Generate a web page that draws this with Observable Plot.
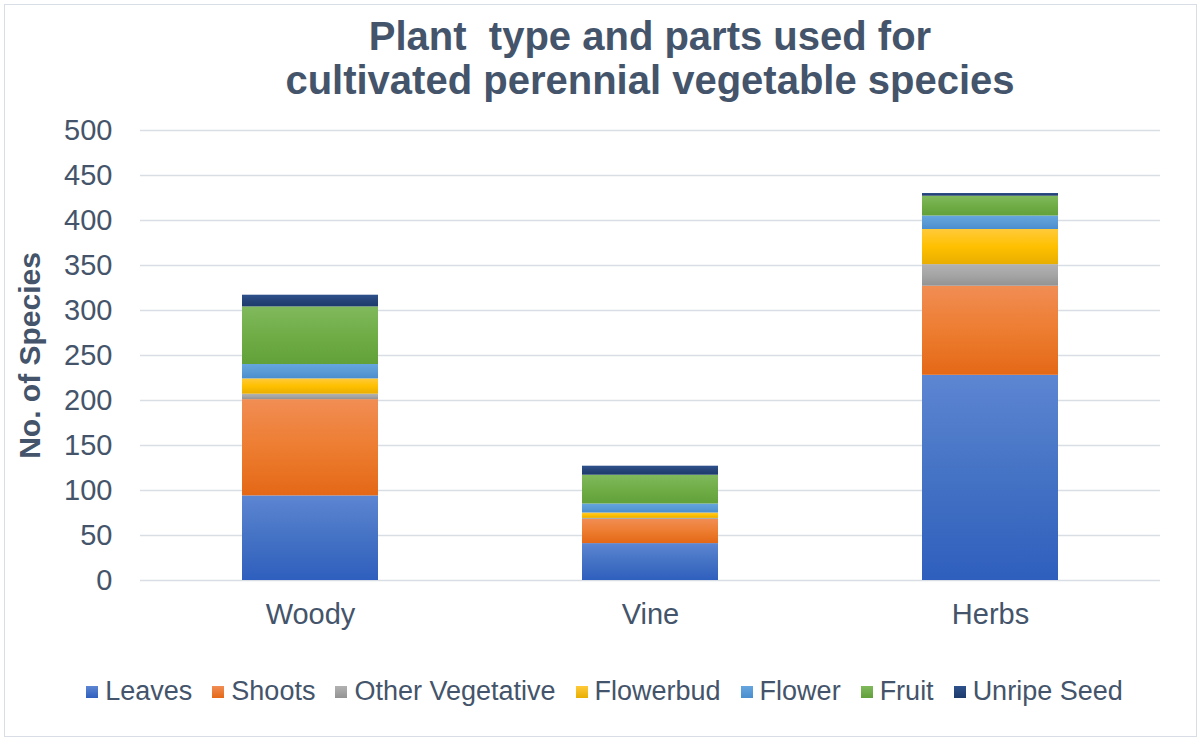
<!DOCTYPE html>
<html>
<head>
<meta charset="utf-8">
<script src="https://cdn.jsdelivr.net/npm/d3@7"></script>
<script src="https://cdn.jsdelivr.net/npm/@observablehq/plot@0.6"></script>
<style>
  html, body { margin: 0; padding: 0; background: #fff; }
  #wrap { position: relative; width: 1200px; height: 741px; overflow: hidden; font-family: "Liberation Sans", Arial, sans-serif; }
  #frame { position: absolute; left: 4px; top: 4px; width: 1191px; height: 731px; border: 1.5px solid #d9dee6; box-sizing: content-box; }
  #title { position: absolute; left: 140px; width: 1020px; top: 14px; text-align: center; font-weight: bold; font-size: 40px; line-height: 44px; color: #44546a; white-space: pre; }
  #chart { position: absolute; left: 0; top: 0; }
  #legend { position: absolute; left: 0; width: 1209px; top: 676px; display: flex; justify-content: center; gap: 20px; font-size: 27px; line-height: 31px; color: #44546a; }
  .item { display: flex; align-items: center; }
  .sw { width: 12px; height: 12px; margin-right: 7px; }
</style>
</head>
<body>
<div id="wrap">
  <div id="frame"></div>
  <div id="chart"></div>
  <div id="title">Plant  type and parts used for
cultivated perennial vegetable species</div>
  <div id="legend"></div>
</div>
<script>
const categories = ["Woody", "Vine", "Herbs"];
const parts = ["Leaves", "Shoots", "Other Vegetative", "Flowerbud", "Flower", "Fruit", "Unripe Seed"];
const woody = [94, 107, 6, 17, 16, 64, 13];
const vine = [41, 27, 1, 6, 10, 32, 10];
const herbs = [228, 99, 24, 39, 15, 22, 3];
const yTicks = [0, 50, 100, 150, 200, 250, 300, 350, 400, 450, 500];

const partColors = ["#4472c4", "#ed7d31", "#a5a5a5", "#ffc000", "#5b9bd5", "#70ad47", "#264478"];
const gradTop = ["#5d86d2", "#f18d54", "#b2b2b2", "#ffca3a", "#66a6df", "#80b95c", "#2e518c"];
const gradBottom = ["#2f5fbe", "#e46816", "#939393", "#e8ae00", "#4a8ecf", "#62a03a", "#1d3a6b"];

const series = [woody, vine, herbs];
const rows = [];
categories.forEach((c, i) => {
  parts.forEach((p, j) => rows.push({ category: c, part: p, value: series[i][j] }));
});

const gradIds = parts.map((p, j) => "grad" + j);

const plot = Plot.plot({
  width: 1200,
  height: 741,
  marginTop: 130,
  marginBottom: 161,
  marginLeft: 140,
  marginRight: 40,
  style: { fontFamily: "'Liberation Sans', Arial, sans-serif", background: "transparent", overflow: "visible" },
  x: { domain: categories, paddingInner: 0.6, paddingOuter: 0.3, label: null },
  y: { domain: [0, 500], ticks: yTicks, label: null },
  color: { domain: parts, range: gradIds.map(id => `url(#${id})`) },
  marks: [
    Plot.gridY(yTicks, { stroke: "#d9dde4", strokeOpacity: 1, strokeWidth: 1.6 }),
    Plot.barY(rows, Plot.stackY({ x: "category", y: "value", fill: "part", order: null })),
    Plot.axisY(yTicks, { tickSize: 0, tickPadding: 28, fontSize: 29, fill: "#44546a", label: null }),
    Plot.axisX({ tickSize: 0, tickPadding: 23, fontSize: 29, fill: "#44546a", label: null }),
    Plot.text(["No. of Species"], { frameAnchor: "left", textAnchor: "middle", dx: -110, rotate: -90, fontSize: 30, fontWeight: "bold", fill: "#44546a", text: d => d })
  ]
});

// gradients
const ns = "http://www.w3.org/2000/svg";
const defs = document.createElementNS(ns, "defs");
parts.forEach((p, j) => {
  const g = document.createElementNS(ns, "linearGradient");
  g.setAttribute("id", gradIds[j]);
  g.setAttribute("x1", "0"); g.setAttribute("y1", "0");
  g.setAttribute("x2", "0"); g.setAttribute("y2", "1");
  [[0, gradTop[j]], [0.5, partColors[j]], [1, gradBottom[j]]].forEach(([o, c]) => {
    const s = document.createElementNS(ns, "stop");
    s.setAttribute("offset", o);
    s.setAttribute("stop-color", c);
    g.appendChild(s);
  });
  defs.appendChild(g);
});
plot.insertBefore(defs, plot.firstChild);
document.getElementById("chart").appendChild(plot);

// legend
const legend = document.getElementById("legend");
parts.forEach((p, j) => {
  const it = document.createElement("div");
  it.className = "item";
  const sw = document.createElement("span");
  sw.className = "sw";
  sw.style.background = `linear-gradient(${gradTop[j]}, ${gradBottom[j]})`;
  const t = document.createElement("span");
  t.textContent = p;
  it.appendChild(sw); it.appendChild(t);
  legend.appendChild(it);
});
</script>
</body>
</html>
